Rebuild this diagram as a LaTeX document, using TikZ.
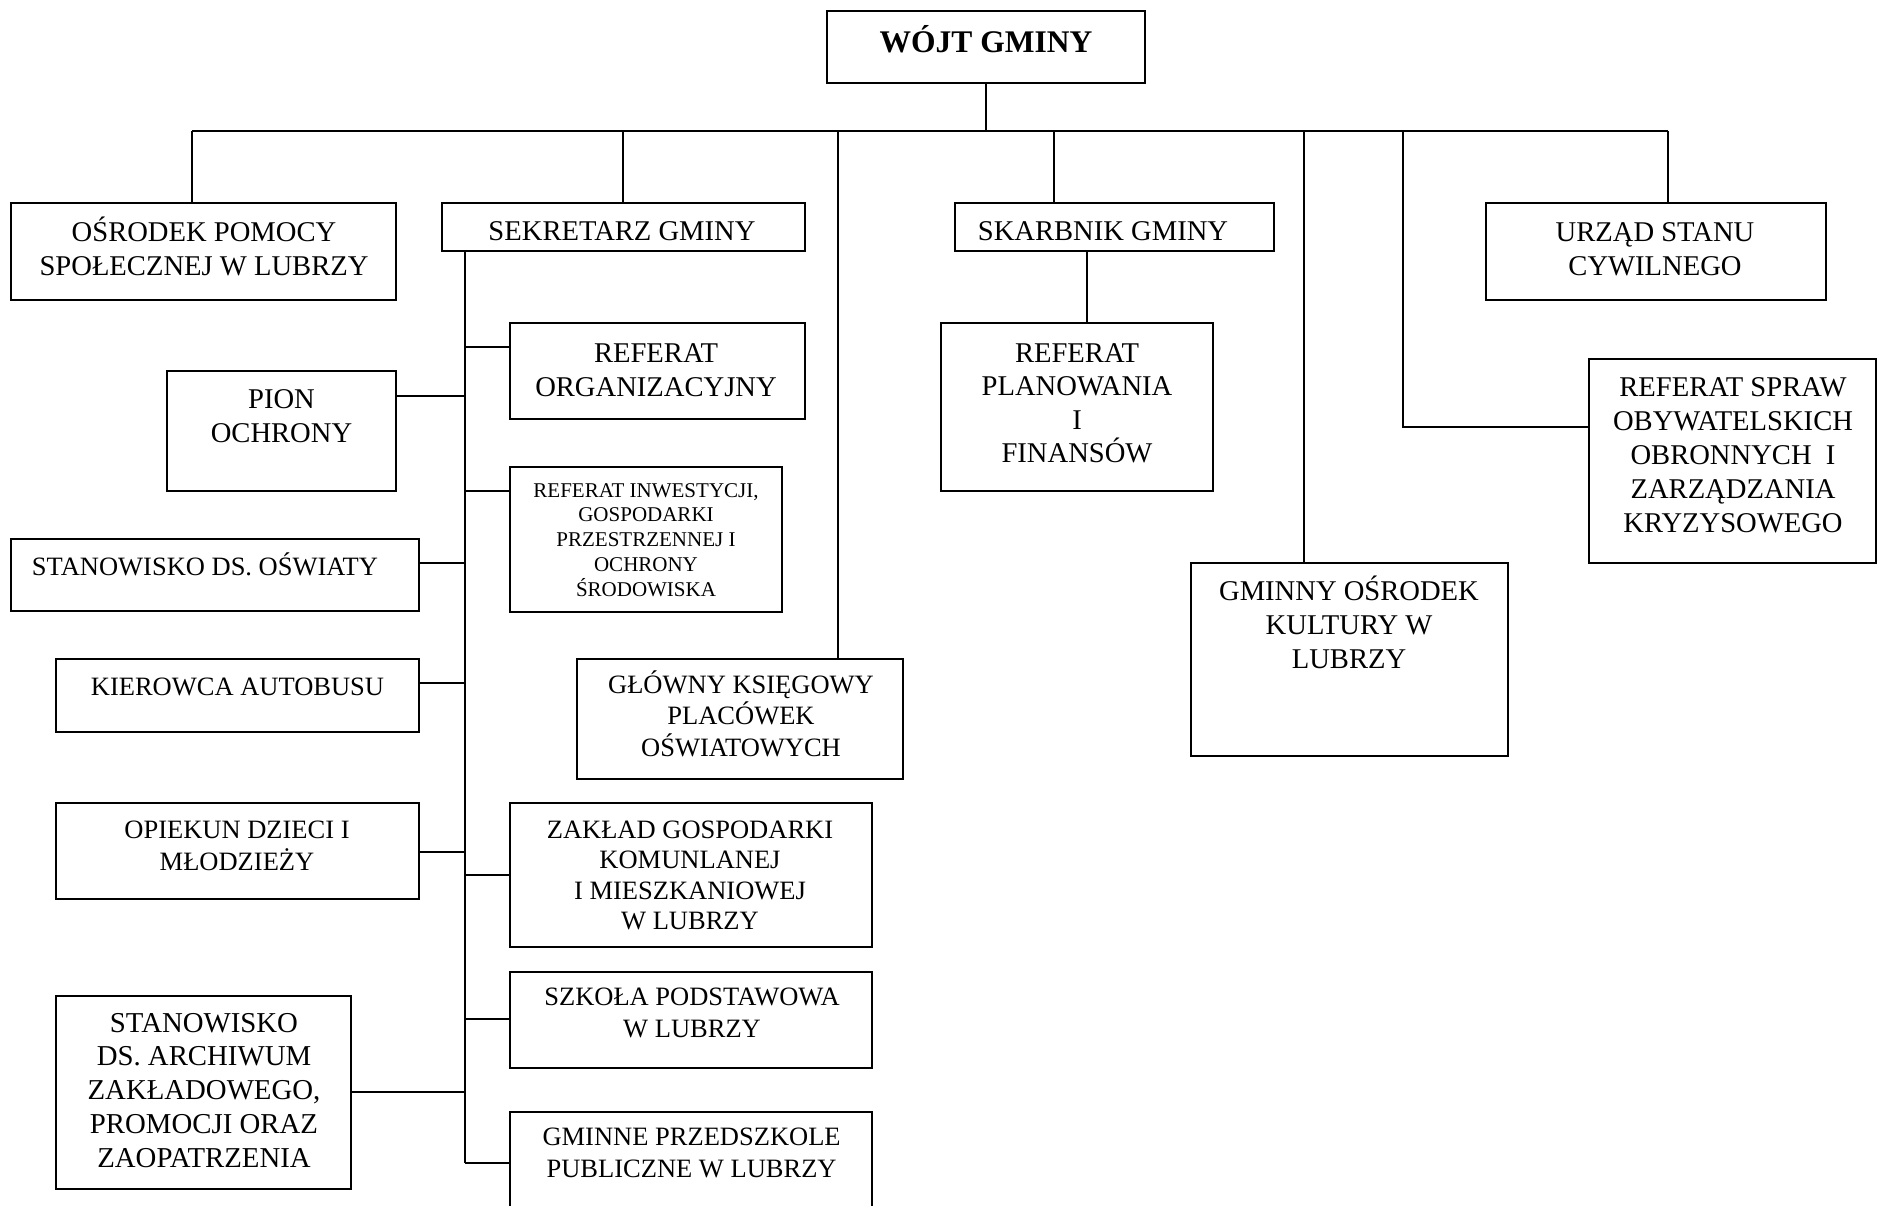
\documentclass[tikz,border=0pt]{standalone}
\usepackage{fontspec}
\setmainfont{Liberation Serif}
\usetikzlibrary{fit}
\tikzset{
  box/.style={draw, line width=1.6pt, inner sep=0pt, outer sep=0pt},
  conn/.style={line width=1.6pt},
  tB/.style={font=\fontsize{31.5}{36}\selectfont\bfseries, align=center, anchor=base, inner sep=0pt},
  tL/.style={font=\fontsize{28.6}{34}\selectfont, align=center, anchor=base, inner sep=0pt},
  tM/.style={font=\fontsize{26.5}{31.5}\selectfont, align=center, anchor=base, inner sep=0pt},
  tS/.style={font=\fontsize{21}{24.7}\selectfont, align=center, anchor=base, inner sep=0pt}
}
\begin{document}
\begin{tikzpicture}[x=1pt, y=-1pt]
\useasboundingbox (0,0) rectangle (1878,1205);
% boxes
\node[box, fit={(827,11) (1145,83)}] (wojt) {};
\node[box, fit={(11,203) (396,300)}] (osrodek) {};
\node[box, fit={(442,203) (805,251)}] (sekretarz) {};
\node[box, fit={(955,203) (1274,251)}] (skarbnik) {};
\node[box, fit={(1486,203) (1826,300)}] (urzad) {};
\node[box, fit={(510,323) (805,419)}] (reforg) {};
\node[box, fit={(167,371) (396,491)}] (pion) {};
\node[box, fit={(510,467) (782,612)}] (refinw) {};
\node[box, fit={(11,539) (419,611)}] (oswiata) {};
\node[box, fit={(56,659) (419,732)}] (kierowca) {};
\node[box, fit={(577,659) (903,779)}] (glowny) {};
\node[box, fit={(56,803) (419,899)}] (opiekun) {};
\node[box, fit={(510,803) (872,947)}] (zaklad) {};
\node[box, fit={(510,972) (872,1068)}] (szkola) {};
\node[box, fit={(56,996) (351,1189)}] (archiwum) {};
\node[box, fit={(510,1112) (872,1220)}] (przedszkole) {};
\node[box, fit={(941,323) (1213,491)}] (refplan) {};
\node[box, fit={(1589,359) (1876,563)}] (refspraw) {};
\node[box, fit={(1191,563) (1508,756)}] (gok) {};
% texts (anchor = baseline of the last line)
\node[tB] (wojt-t) at (986,52) {WÓJT GMINY};
\node[tL] (osrodek-t) at (204,275) {OŚRODEK POMOCY\\SPOŁECZNEJ W LUBRZY};
\node[tL] (sekretarz-t) at (622,240) {SEKRETARZ GMINY};
\node[tL] (skarbnik-t) at (1103,240) {SKARBNIK GMINY};
\node[tL] (urzad-t) at (1655,275) {URZĄD STANU\\CYWILNEGO};
\node[tL] (reforg-t) at (656,396) {REFERAT\\ORGANIZACYJNY};
\node[tL] (pion-t) at (281.5,442) {PION\\OCHRONY};
\node[tS] (refinw-t) at (646,596) {REFERAT INWESTYCJI,\\GOSPODARKI\\PRZESTRZENNEJ I\\OCHRONY\\ŚRODOWISKA};
\node[tM] (oswiata-t) at (205,575) {STANOWISKO DS. OŚWIATY};
\node[tM] (kierowca-t) at (237.5,695) {KIEROWCA AUTOBUSU};
\node[tM] (glowny-t) at (741,756) {GŁÓWNY KSIĘGOWY\\PLACÓWEK\\OŚWIATOWYCH};
\node[tM] (opiekun-t) at (237,870) {OPIEKUN DZIECI I\\MŁODZIEŻY};
\node[tM, font=\fontsize{26.5}{30.5}\selectfont] (zaklad-t) at (690,929.5) {ZAKŁAD GOSPODARKI\\KOMUNLANEJ\\I MIESZKANIOWEJ\\W LUBRZY};
\node[tM] (szkola-t) at (692,1037) {SZKOŁA PODSTAWOWA\\W LUBRZY};
\node[tL, font=\fontsize{28.8}{33.7}\selectfont] (archiwum-t) at (204,1167) {STANOWISKO\\DS. ARCHIWUM\\ZAKŁADOWEGO,\\PROMOCJI ORAZ\\ZAOPATRZENIA};
\node[tM] (przedszkole-t) at (691.6,1177) {GMINNE PRZEDSZKOLE\\PUBLICZNE W LUBRZY};
\node[tL, font=\fontsize{28.6}{33.5}\selectfont] (refplan-t) at (1077,462.5) {REFERAT\\PLANOWANIA\\I\\FINANSÓW};
\node[tL] (refspraw-t) at (1733,532) {REFERAT SPRAW\\OBYWATELSKICH\\OBRONNYCH~ I\\ZARZĄDZANIA\\KRYZYSOWEGO};
\node[tL] (gok-t) at (1349,668) {GMINNY OŚRODEK\\KULTURY W\\LUBRZY};
% junction coordinates
\coordinate (bus) at (986,131);
\coordinate (busL) at (192,131);
\coordinate (busR) at (1668,131);
\coordinate (dSek) at (623,131);
\coordinate (dGlo) at (838,131);
\coordinate (dSka) at (1054,131);
\coordinate (dGok) at (1304,131);
\coordinate (dSpr) at (1403,131);
\coordinate (cSpr) at (1403,427);
\coordinate (spine) at (465,251);
\coordinate (spineEnd) at (465,1163);
\coordinate (jOrg) at (465,347);
\coordinate (jPion) at (465,396);
\coordinate (jInw) at (465,491);
\coordinate (jOsw) at (465,563);
\coordinate (jKie) at (465,683);
\coordinate (jOpi) at (465,852);
\coordinate (jZak) at (465,875);
\coordinate (jSzk) at (465,1019);
\coordinate (jArc) at (465,1092);
\coordinate (jPrz) at (465,1163);
\coordinate (sPlan) at (1087,251);
% connectors
\draw[conn] (wojt.south) -- (bus);
\draw[conn] (busL) -- (busR);
\draw[conn] (busL) -- (busL |- osrodek.north);
\draw[conn] (dSek) -- (dSek |- sekretarz.north);
\draw[conn] (dGlo) -- (dGlo |- glowny.north);
\draw[conn] (dSka) -- (dSka |- skarbnik.north);
\draw[conn] (dGok) -- (dGok |- gok.north);
\draw[conn] (dSpr) -- (cSpr) -- (cSpr -| refspraw.west);
\draw[conn] (busR) -- (busR |- urzad.north);
\draw[conn] (sPlan) -- (sPlan |- refplan.north);
\draw[conn] (spine) -- (spineEnd);
\draw[conn] (jOrg) -- (jOrg -| reforg.west);
\draw[conn] (jPion) -- (jPion -| pion.east);
\draw[conn] (jInw) -- (jInw -| refinw.west);
\draw[conn] (jOsw) -- (jOsw -| oswiata.east);
\draw[conn] (jKie) -- (jKie -| kierowca.east);
\draw[conn] (jOpi) -- (jOpi -| opiekun.east);
\draw[conn] (jZak) -- (jZak -| zaklad.west);
\draw[conn] (jSzk) -- (jSzk -| szkola.west);
\draw[conn] (jArc) -- (jArc -| archiwum.east);
\draw[conn] (jPrz) -- (jPrz -| przedszkole.west);
\end{tikzpicture}
\end{document}
